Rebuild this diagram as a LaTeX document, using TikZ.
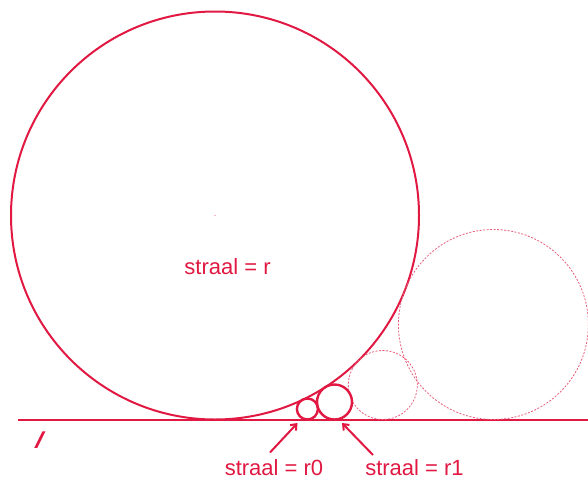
\documentclass[tikz,border=0pt]{standalone}
\usepackage{fontspec}
\setmainfont{Liberation Sans}
\usetikzlibrary{arrows.meta}
\definecolor{crim}{RGB}{224,24,66}
\begin{document}
\begin{tikzpicture}[x=1pt,y=-1pt,
  solidc/.style={draw=crim,line width=2pt},
  dotc/.style={draw=crim!70,line width=0.8pt,dash pattern=on 2pt off 1.5pt},
  lbl/.style={text=crim,font=\fontsize{22}{24}\selectfont,anchor=base,inner sep=0pt},
  arr/.style={draw=crim,line width=2pt,-{Straight Barb[length=5pt,width=8pt,line width=2pt]}}]
\useasboundingbox (0,0) rectangle (588,479);
% line l
\coordinate (L1) at (18,419.5);
\coordinate (L2) at (588,419.5);
\draw[solidc] (L1) -- (L2);
% big circle
\node[solidc,circle,minimum size=408pt,inner sep=0pt] (big) at (215,215.5) {};
\fill[crim!60] (215,215.5) circle (0.7pt);
% dotted circles
\node[dotc,circle,minimum size=190pt,inner sep=0pt] (c95) at (493.4,324.5) {};
\node[dotc,circle,minimum size=69pt,inner sep=0pt] (c34) at (382.8,385) {};
% small circles
\node[draw=crim,line width=2.4pt,circle,minimum size=35pt,inner sep=0pt] (r1) at (334.5,402) {};
\node[draw=crim,line width=2.4pt,circle,minimum size=21pt,inner sep=0pt] (r0) at (307.4,409) {};
% labels
\node[lbl] (lr) at (227.5,274) {straal = r};
\node[lbl] (lr0) at (274,475) {straal = r0};
\node[lbl] (lr1) at (414.5,475) {straal = r1};
\node[text=crim,font=\fontsize{23}{24}\selectfont\bfseries\itshape,anchor=base,inner sep=0pt,xslant=0.3] (ll) at (37,448) {l};
% arrows
\coordinate (a0s) at (270,452.5);
\coordinate (a0e) at (297.5,423);
\coordinate (a1s) at (373,455);
\coordinate (a1e) at (342,423);
\draw[arr] (a0s) -- (a0e);
\draw[arr] (a1s) -- (a1e);
\end{tikzpicture}
\end{document}
